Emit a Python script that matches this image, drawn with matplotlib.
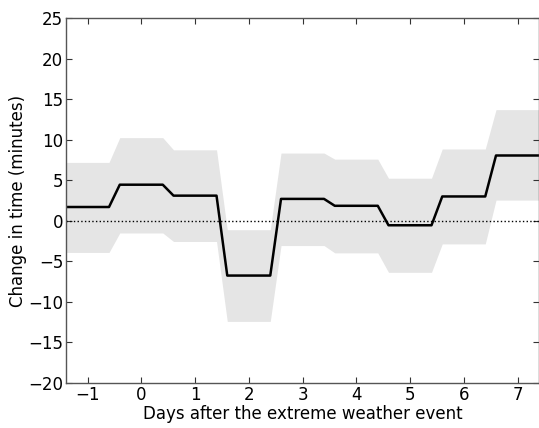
import matplotlib
matplotlib.use("Agg")
import matplotlib.pyplot as plt
import numpy as np

days = [-1, 0, 1, 2, 3, 4, 5, 6, 7]
change = [1.7, 4.45, 3.1, -6.75, 2.7, 1.85, -0.55, 3.0, 8.05]
upper = [7.2, 10.25, 8.75, -1.1, 8.35, 7.6, 5.25, 8.85, 13.7]
lower = [-3.9, -1.5, -2.55, -12.4, -3.05, -3.95, -6.35, -2.85, 2.55]

half = 0.4
xs, ys, us, ls = [], [], [], []
for d, c, u, l in zip(days, change, upper, lower):
    xs += [d - half, d + half]
    ys += [c, c]
    us += [u, u]
    ls += [l, l]

fig = plt.figure(figsize=(5.39, 4.28), dpi=100)
ax = fig.add_axes([0.1225, 0.105, 0.8775, 0.853])
ax.fill_between(xs, ls, us, color="#e5e5e5", linewidth=0)
ax.plot(xs, ys, color="black", linewidth=1.8)
ax.axhline(0, color="black", linestyle=":", linewidth=1)

ax.set_xlim(-1.4, 7.4)
ax.set_ylim(-20, 25)
ax.set_xticks(range(-1, 8))
ax.set_yticks(range(-20, 26, 5))
ax.tick_params(direction="in", top=True, right=True, length=4, width=0.8,
               labelsize=12, color="#333333", pad=2)
for s in ax.spines.values():
    s.set_color("#555555")
    s.set_linewidth(1)
ax.set_xlabel("Days after the extreme weather event", fontsize=12, labelpad=1)
ax.set_ylabel("Change in time (minutes)", fontsize=12, labelpad=1)

fig.savefig("out.png", dpi=100)
